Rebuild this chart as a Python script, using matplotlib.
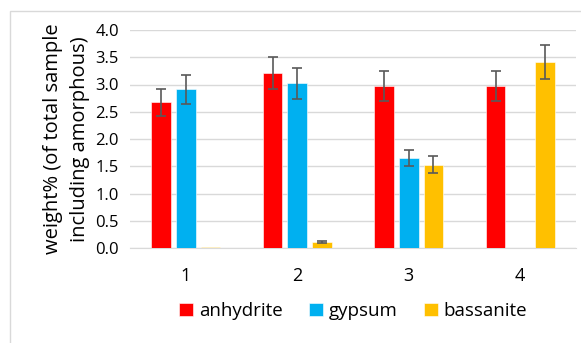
import numpy as np
import matplotlib.pyplot as plt
from matplotlib.patches import Rectangle

plt.rcParams['font.family'] = ['Open Sans', 'DejaVu Sans']

samples = ['1', '2', '3', '4']
anhydrite = [2.67, 3.21, 2.97, 2.97]
anhydrite_err = [0.245, 0.29, 0.28, 0.28]
gypsum = [2.91, 3.02, 1.65, 0.005]
gypsum_err = [0.26, 0.28, 0.15, 0.0]
bassanite = [0.01, 0.11, 1.53, 3.41]
bassanite_err = [0.0, 0.02, 0.15, 0.31]

W, H = 581, 343
fig = plt.figure(figsize=(W / 100, H / 100), dpi=100)
ax = fig.add_axes([130 / W, (H - 248) / H, (576 - 130) / W, (248 - 30) / H])

# light frame around the chart (only top and left are visible in the crop)
fig.patches.append(Rectangle((10 / W, -0.1), 1.2, (H - 11) / H + 0.1,
                             transform=fig.transFigure, fill=False,
                             edgecolor='#d9d9d9', linewidth=1, zorder=0))

x = np.arange(len(samples))
bw = 0.175
off = 0.22
series = [(anhydrite, anhydrite_err, '#ff0000', 'anhydrite'),
          (gypsum, gypsum_err, '#00b0f0', 'gypsum'),
          (bassanite, bassanite_err, '#ffc000', 'bassanite')]
for i, (vals, errs, col, lab) in enumerate(series):
    xs = x + (i - 1) * off
    ax.bar(xs, vals, bw, color=col, label=lab,
           edgecolor='white', linewidth=0.4, zorder=3)
    vals = np.array(vals)
    errs = np.array(errs)
    m = errs > 0
    ax.errorbar(xs[m], vals[m], yerr=errs[m], fmt='none', ecolor='#595959',
                elinewidth=1.2, capsize=3.5, capthick=1.2, zorder=4)

ax.set_xlim(-0.5, 3.5)
ax.set_ylim(0, 4.0)
ax.set_yticks(np.arange(0, 4.01, 0.5))
ax.set_yticklabels(['%.1f' % v for v in np.arange(0, 4.01, 0.5)])
ax.set_xticks(x)
ax.set_xticklabels(samples)
ax.yaxis.grid(True, color='#d9d9d9', linewidth=1)
ax.set_axisbelow(True)
for s in ['top', 'right', 'left']:
    ax.spines[s].set_visible(False)
ax.spines['bottom'].set_color('#d9d9d9')
ax.tick_params(length=0, labelsize=12, colors='#000000', pad=8)
ax.tick_params(axis='x', pad=14, labelsize=13)

ax.set_ylabel('weight% (of total sample\nincluding amorphous)', fontsize=14.5,
              labelpad=4, linespacing=1.45)

ax.legend(loc='upper center', bbox_to_anchor=(0.5, -0.17), ncol=3,
          frameon=False, fontsize=13.5, handlelength=0.75, handleheight=0.75,
          handletextpad=0.3, columnspacing=1.4)

fig.savefig('out.png', dpi=100)
